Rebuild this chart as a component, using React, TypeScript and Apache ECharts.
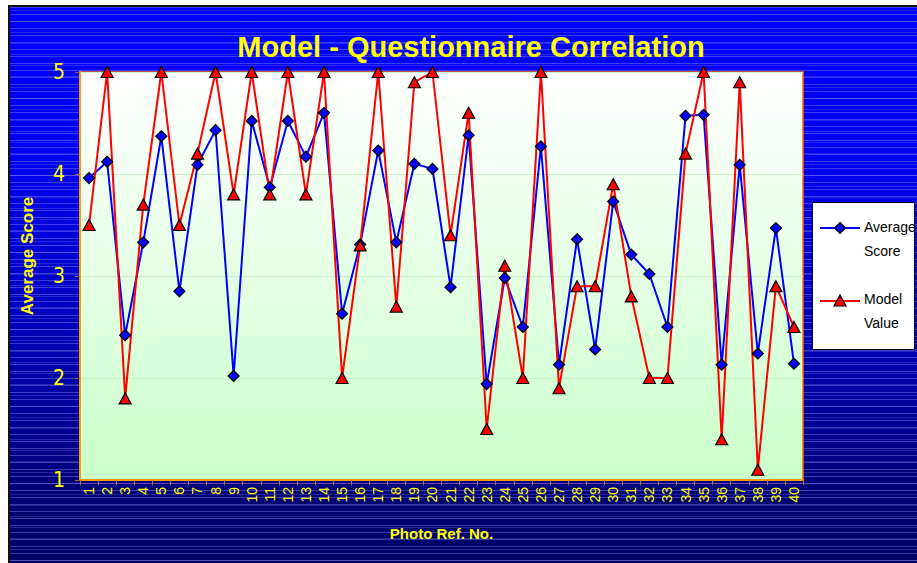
import React, { useEffect, useRef } from "react";
import * as echarts from "echarts";

const categories = [
  "1", "2", "3", "4", "5", "6", "7", "8", "9", "10",
  "11", "12", "13", "14", "15", "16", "17", "18", "19", "20",
  "21", "22", "23", "24", "25", "26", "27", "28", "29", "30",
  "31", "32", "33", "34", "35", "36", "37", "38", "39", "40",
];

const averageScore = [
  3.96, 4.12, 2.42, 3.33, 4.37, 2.85, 4.09, 4.43, 2.02, 4.52,
  3.87, 4.52, 4.17, 4.6, 2.63, 3.31, 4.23, 3.33, 4.1, 4.05,
  2.89, 4.38, 1.94, 2.98, 2.5, 4.27, 2.13, 3.36, 2.28, 3.73,
  3.21, 3.02, 2.5, 4.57, 4.58, 2.13, 4.09, 2.24, 3.47, 2.14,
];

const modelValue = [
  3.5, 5, 1.8, 3.7, 5, 3.5, 4.2, 5, 3.8, 5,
  3.8, 5, 3.8, 5, 2.0, 3.3, 5, 2.7, 4.9, 5,
  3.4, 4.6, 1.5, 3.1, 2.0, 5, 1.9, 2.9, 2.9, 3.9,
  2.8, 2.0, 2.0, 4.2, 5, 1.4, 4.9, 1.1, 2.9, 2.5,
];

const seriesNames = ["Average Score", "Model Value"];
const legendLines = [["Average", "Score"], ["Model", "Value"]];
const titleText = "Model - Questionnaire Correlation";
const xName = "Photo Ref. No.";
const yName = "Average Score";

const YELLOW = "#ffff00";
const ARIAL = "'Liberation Sans', Arial, sans-serif";
const NARROW = "'Liberation Sans Narrow', 'DejaVu Sans Condensed', 'Liberation Sans', sans-serif";

export default function App() {
  const ref = useRef<HTMLDivElement>(null);

  useEffect(() => {
    document.body.style.margin = "0";
    if (!ref.current) return;
    const chart = echarts.init(ref.current, null, { renderer: "svg" });
    const legendFont = `14px ${ARIAL}`;
    const option: any = {
      animation: false,
      backgroundColor: "transparent",
      title: {
        text: titleText,
        left: 466,
        top: 27,
        textAlign: "center",
        textStyle: {
          color: YELLOW,
          fontSize: 29,
          fontWeight: "bold",
          fontFamily: ARIAL,
        },
      },
      grid: {
        left: 80,
        top: 72,
        right: 114,
        bottom: 83,
        show: true,
        borderColor: "#ff6a00",
        borderWidth: 1.5,
        backgroundColor: {
          type: "linear",
          x: 0,
          y: 0,
          x2: 0,
          y2: 1,
          colorStops: [
            { offset: 0, color: "#ffffff" },
            { offset: 1, color: "#c9ffc9" },
          ],
        },
      },
      xAxis: {
        type: "category",
        data: categories,
        boundaryGap: true,
        name: xName,
        nameLocation: "middle",
        nameGap: 46,
        nameTextStyle: {
          color: YELLOW,
          fontSize: 15,
          fontWeight: "bold",
          fontFamily: ARIAL,
        },
        axisLine: { lineStyle: { color: "#ff9900", width: 2 } },
        axisTick: {
          show: true,
          length: 5,
          interval: 0,
          lineStyle: { color: "#c07020" },
        },
        axisLabel: {
          interval: 0,
          rotate: 90,
          margin: 7,
          color: YELLOW,
          fontSize: 14,
          fontFamily: ARIAL,
        },
        splitLine: { show: false },
      },
      yAxis: {
        type: "value",
        min: 1,
        max: 5,
        interval: 1,
        axisLine: { show: true, lineStyle: { color: "#ff9900", width: 2 } },
        axisTick: { show: true, length: 5, lineStyle: { color: "#a06030" } },
        axisLabel: {
          margin: 15,
          color: YELLOW,
          fontSize: 21,
          fontFamily: NARROW,
        },
        splitLine: { show: true, lineStyle: { color: "#c6f2c6", width: 1 } },
      },
      series: [
        {
          name: seriesNames[0],
          type: "line",
          data: averageScore,
          clip: false,
          symbol: "diamond",
          symbolSize: 11,
          lineStyle: { color: "#0000ff", width: 2 },
          itemStyle: { color: "#0000ff", borderColor: "#000000", borderWidth: 1.2 },
        },
        {
          name: seriesNames[1],
          type: "line",
          data: modelValue,
          clip: false,
          symbol: "triangle",
          symbolSize: [12, 11],
          lineStyle: { color: "#ff0000", width: 2 },
          itemStyle: { color: "#ff0000", borderColor: "#000000", borderWidth: 1.2 },
        },
      ],
      graphic: [
        {
          type: "text",
          x: 27,
          y: 256,
          rotation: Math.PI / 2,
          style: {
            text: yName,
            fill: YELLOW,
            font: `bold 17px ${ARIAL}`,
            align: "center",
            verticalAlign: "middle",
          },
        },
        {
          type: "rect",
          shape: { x: 812.5, y: 202.5, width: 102, height: 147 },
          style: { fill: "#ffffff", stroke: "#000000", lineWidth: 1 },
        },
        {
          type: "line",
          shape: { x1: 820, y1: 228, x2: 860, y2: 228 },
          style: { stroke: "#0000ff", lineWidth: 2 },
        },
        {
          type: "polygon",
          shape: { points: [[840, 222.5], [845.5, 228], [840, 233.5], [834.5, 228]] },
          style: { fill: "#0000ff", stroke: "#000000", lineWidth: 1.2 },
        },
        {
          type: "text",
          x: 864,
          y: 227,
          style: { text: legendLines[0][0], fill: "#000000", font: legendFont, verticalAlign: "middle" },
        },
        {
          type: "text",
          x: 864,
          y: 251,
          style: { text: legendLines[0][1], fill: "#000000", font: legendFont, verticalAlign: "middle" },
        },
        {
          type: "line",
          shape: { x1: 820, y1: 301, x2: 860, y2: 301 },
          style: { stroke: "#ff0000", lineWidth: 2 },
        },
        {
          type: "polygon",
          shape: { points: [[840, 295], [846, 306], [834, 306]] },
          style: { fill: "#ff0000", stroke: "#000000", lineWidth: 1.2 },
        },
        {
          type: "text",
          x: 864,
          y: 299,
          style: { text: legendLines[1][0], fill: "#000000", font: legendFont, verticalAlign: "middle" },
        },
        {
          type: "text",
          x: 864,
          y: 323,
          style: { text: legendLines[1][1], fill: "#000000", font: legendFont, verticalAlign: "middle" },
        },
      ],
    };
    chart.setOption(option);
    return () => chart.dispose();
  }, []);

  const frameStyle: React.CSSProperties = {
    position: "absolute",
    left: 8,
    top: 5,
    width: 917 - 8,
    height: 563 - 5,
    boxSizing: "border-box",
    borderLeft: "2px solid #111",
    borderTop: "2px solid #111",
    background: [
      "repeating-linear-gradient(to bottom, rgba(150,150,255,0.4) 0px, rgba(150,150,255,0.4) 1px, transparent 1px, transparent 7px)",
      "repeating-linear-gradient(to bottom, transparent 0px, transparent 3px, rgba(150,150,255,0.25) 3px, rgba(150,150,255,0.25) 4px, transparent 4px, transparent 11px)",
      "linear-gradient(to bottom, #0000ff 0%, #0000f4 25%, #0000c8 50%, #00009a 72%, #000070 90%, #000066 100%)",
    ].join(", "),
  };

  return (
    <div style={{ position: "relative", width: 917, height: 563, background: "#ffffff", overflow: "hidden" }}>
      <div style={frameStyle} />
      <div ref={ref} style={{ position: "absolute", left: 0, top: 0, width: 917, height: 563 }} />
    </div>
  );
}
